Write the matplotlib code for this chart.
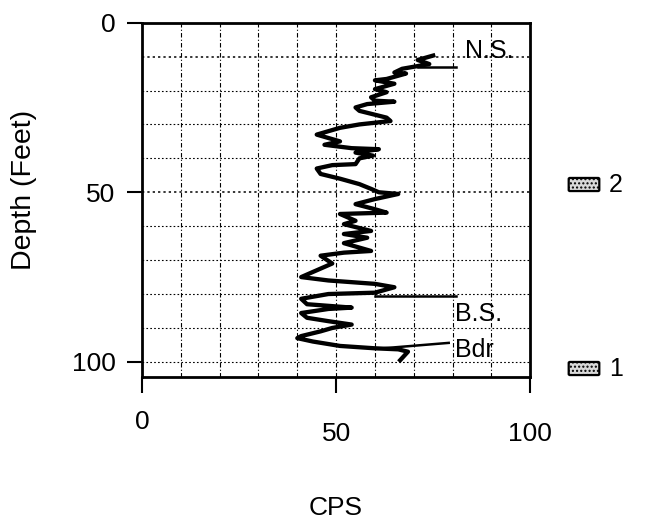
import matplotlib
matplotlib.use('Agg')
import matplotlib.pyplot as plt
import matplotlib.patches as mpatches
import matplotlib.transforms as mtransforms

plt.rcParams['font.family'] = ['Liberation Sans', 'DejaVu Sans']

# gamma log trace, depth in feet vs counts per second
depth = [9.7, 11, 12.2, 13, 13.6, 14.7, 15, 16.6, 17, 18,
         19.6, 20.5, 22, 23, 23.3, 24, 25, 26, 28, 29,
         30, 31, 33, 34, 35, 36, 37, 37.3, 38.3, 39.2,
         40, 41.7, 42, 43, 44.6, 46, 47.6, 49, 50, 50.5,
         51.5, 52, 53.5, 55, 56, 56.4, 58.4, 59.4, 61.4, 62.3,
         63.4, 65, 67.3, 67.8, 68.7, 71, 73, 75, 76, 77,
         78, 79.6, 80, 81.4, 83, 84, 84.4, 85.6, 87, 88,
         89, 90, 91, 92.4, 93, 94, 95.3, 96, 96.3, 97,
         99.5]
cps = [75, 71, 74, 70, 67, 65, 68, 63, 60, 65,
       60, 63, 59, 60, 65, 58, 55, 56, 63, 64,
       56, 51, 45, 48, 51, 47, 54, 61, 55, 59.5,
       56, 55, 49, 45, 46, 51, 56, 59, 61, 66,
       62, 60, 55, 60, 63, 51, 55, 52, 59, 52,
       58, 52, 59, 52, 46, 49, 45, 41, 48, 60,
       65, 60, 48, 41, 42.5, 54, 48, 41, 42.5, 48,
       54, 49, 46, 41, 40, 44, 51, 60, 66, 68.5,
       66.5]

# marker lines pointing to the annotations
marker_names = ['N.S.', 'B.S.', 'Bdr']
marker_x0 = [71, 60, 62]
marker_x1 = [81, 81, 79]
marker_d0 = [13, 80.5, 96]
marker_d1 = [13, 80.5, 94.4]
label_x = [83.2, 80.7, 80.7]
label_d = [8.3, 85.8, 96.6]

xticks = [0, 50, 100]
yticks = [0, 50, 100]
legend_labels = ['2', '1']

fig = plt.figure(figsize=(6.53, 5.27), dpi=100)
ax = fig.add_axes([0.2175, 0.285, 0.5945, 0.672])

for v in range(10, 100, 10):
    ax.axvline(v, color='black', lw=0.8, linestyle=(0, (4, 2, 1, 2)), zorder=1)
for h in range(10, 101, 10):
    lw = 1.1 if h in (10, 50) else 0.8
    ax.axhline(h, color='black', lw=lw, linestyle=(0, (1.5, 2)), zorder=1)

ax.plot(cps, depth, color='black', lw=3.1, solid_joinstyle='round', zorder=3)

for i in range(len(marker_names)):
    ax.plot([marker_x0[i], marker_x1[i]], [marker_d0[i], marker_d1[i]],
            color='black', lw=1.8, zorder=3)
    ax.text(label_x[i], label_d[i], marker_names[i], fontsize=18,
            ha='left', va='center', zorder=4)

ax.set_xlim(0, 100)
ax.set_ylim(104.4, 0)
ax.set_yticks(yticks)
ax.set_yticklabels([str(t) for t in yticks], fontsize=19)
ax.set_xticks(xticks)
ax.set_xticklabels([])
ax.tick_params(axis='y', direction='out', length=11, width=1.5, pad=8)
ax.tick_params(axis='x', direction='out', length=11.5, width=1.5)
for s in ax.spines.values():
    s.set_linewidth(2)

# x tick labels placed by hand (the first one sits a little higher)
trans = mtransforms.blended_transform_factory(ax.transData, fig.transFigure)
xlab_y = [1 - 422 / 527, 1 - 434 / 527, 1 - 434 / 527]
for t, yy in zip(xticks, xlab_y):
    ax.text(t, yy, str(t), transform=trans, fontsize=19, ha='center', va='center')

ax.set_ylabel('Depth (Feet)', fontsize=20.5)
ax.yaxis.set_label_coords(-0.27, 0.527)
fig.text(336 / 653, 1 - 508 / 527, 'CPS', fontsize=19, ha='center', va='center')

# legend-like swatches on the right
box_y = [1 - 191 / 527, 1 - 375 / 527]
for lab, by in zip(legend_labels, box_y):
    fig.patches.append(mpatches.FancyBboxPatch((570 / 653, by + 1 / 527), 28 / 653, 11 / 527,
                                               boxstyle='round,pad=0.002',
                                               transform=fig.transFigure,
                                               facecolor='#d9d9d9', edgecolor='black',
                                               hatch='....', lw=1.6))
    fig.text(616 / 653, by + 6.5 / 527, lab, fontsize=18, ha='center', va='center')

plt.savefig('out.png', dpi=100)
